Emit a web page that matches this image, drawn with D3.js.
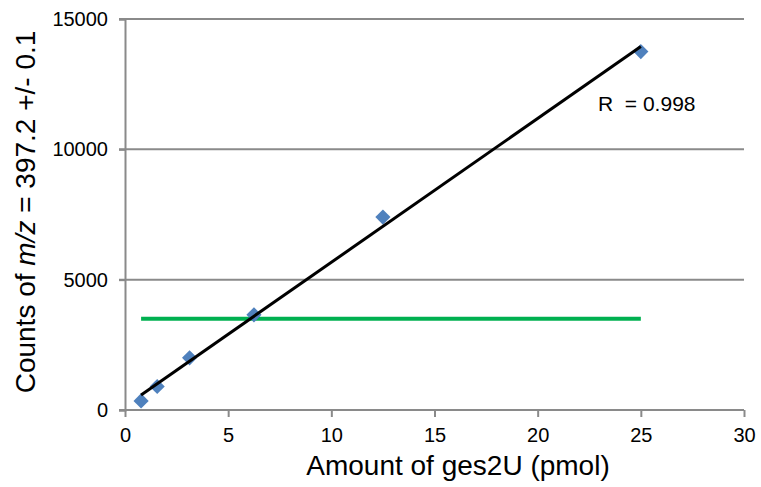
<!DOCTYPE html>
<html>
<head>
<meta charset="utf-8">
<script src="https://cdn.jsdelivr.net/npm/d3@7"></script>
<style>
  body { margin: 0; background: #fff; }
  text { font-family: "Liberation Sans", Arial, sans-serif; fill: #000; }
</style>
</head>
<body>
<svg id="chart" width="761" height="487"></svg>
<script>
// Calibration points: amount injected (pmol) vs counts at m/z 397.2
const amounts = [0.78, 1.56, 3.13, 6.25, 12.5, 25];
const counts = [350, 900, 2000, 3650, 7400, 13750];
const xTicks = [0, 5, 10, 15, 20, 25, 30];
const yTicks = [0, 5000, 10000, 15000];
const thresholdLevel = 3500;
const thresholdRange = [0.78, 25];
const rLabel = "R  = 0.998";

const svg = d3.select("#chart");
const x = d3.scaleLinear().domain([0, 30]).range([125, 744]);
const y = d3.scaleLinear().domain([0, 15000]).range([410, 19]);
const grey = "#8a8a8a";
const font = "Liberation Sans, Arial, sans-serif";

// horizontal gridlines
svg.append("g").selectAll("line").data(yTicks.filter(d => d > 0)).join("line")
  .attr("x1", x(0) - 6).attr("x2", x(30))
  .attr("y1", d => y(d)).attr("y2", d => y(d))
  .attr("stroke", grey).attr("stroke-width", 2);

// y axis
const yAxis = svg.append("g").attr("transform", `translate(${x(0)},0)`)
  .call(d3.axisLeft(y).tickValues(yTicks).tickSize(6).tickPadding(11).tickFormat(d3.format("d")));
yAxis.select(".domain").attr("stroke", grey).attr("stroke-width", 2);
yAxis.selectAll(".tick line").attr("stroke", grey).attr("stroke-width", 2);
yAxis.selectAll(".tick text").attr("font-size", 20).attr("fill", "#000").attr("font-family", font);

// x axis
const xAxis = svg.append("g").attr("transform", `translate(0,${y(0)})`)
  .call(d3.axisBottom(x).tickValues(xTicks).tickSize(7).tickPadding(11));
xAxis.select(".domain").attr("stroke", grey).attr("stroke-width", 2)
  .attr("d", `M${x(0) - 6},0H${x(30)}`);
xAxis.selectAll(".tick line").attr("stroke", grey).attr("stroke-width", 2);
xAxis.selectAll(".tick text").attr("font-size", 20).attr("fill", "#000").attr("font-family", font);

// threshold line
svg.append("line")
  .attr("x1", x(thresholdRange[0])).attr("x2", x(thresholdRange[1]))
  .attr("y1", y(thresholdLevel)).attr("y2", y(thresholdLevel))
  .attr("stroke", "#00b050").attr("stroke-width", 4);

// least-squares linear fit
const mx = d3.mean(amounts), my = d3.mean(counts);
const sxy = d3.sum(amounts, (a, i) => (a - mx) * (counts[i] - my));
const sxx = d3.sum(amounts, a => (a - mx) * (a - mx));
const slope = sxy / sxx, intercept = my - slope * mx;
const x0 = d3.min(amounts), x1 = d3.max(amounts);

// data markers (diamonds)
const diamond = d3.symbol().type(d3.symbolSquare).size(115);
svg.append("g").selectAll("path").data(amounts).join("path")
  .attr("d", diamond)
  .attr("transform", (d, i) => `translate(${x(d)},${y(counts[i])}) rotate(45)`)
  .attr("fill", "#4f81bd");

svg.append("line")
  .attr("x1", x(x0)).attr("y1", y(intercept + slope * x0))
  .attr("x2", x(x1)).attr("y2", y(intercept + slope * x1))
  .attr("stroke", "#000").attr("stroke-width", 3);

svg.append("text").attr("x", 598).attr("y", 111)
  .attr("font-size", 21).attr("xml:space", "preserve")
  .style("white-space", "pre").text(rLabel);

// axis titles
svg.append("text").attr("x", 458).attr("y", 475)
  .attr("text-anchor", "middle").attr("font-size", 28)
  .text("Amount of ges2U (pmol)");

const yt = svg.append("text")
  .attr("transform", `translate(35,212) rotate(-90)`)
  .attr("text-anchor", "middle").attr("font-size", 28);
yt.append("tspan").text("Counts of ");
yt.append("tspan").attr("font-style", "italic").text("m/z");
yt.append("tspan").text(" = 397.2 +/- 0.1");
</script>
</body>
</html>
